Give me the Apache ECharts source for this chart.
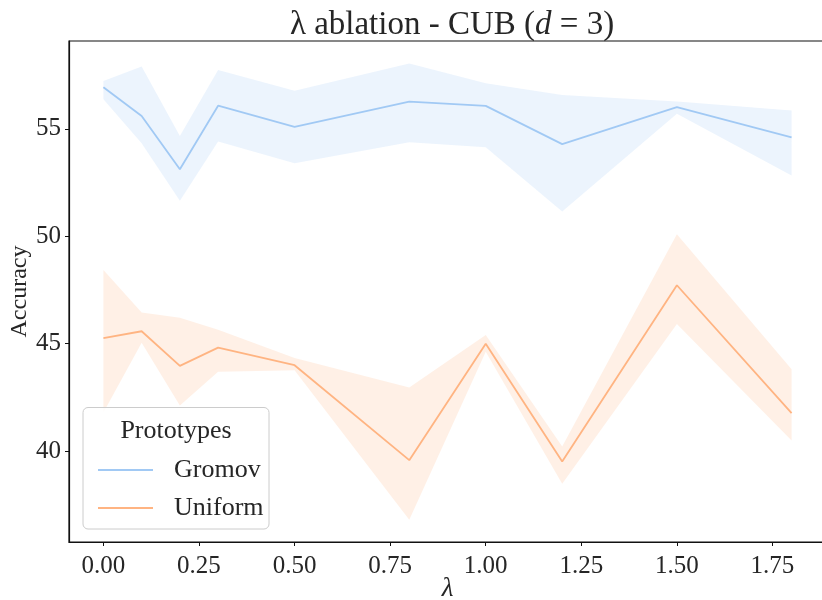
<!DOCTYPE html>
<html>
<head>
<meta charset="utf-8">
<script src="https://cdn.jsdelivr.net/npm/echarts@6/dist/echarts.min.js"></script>
<style>html,body{margin:0;padding:0;background:#fff}#c{width:822px;height:600px}</style>
</head>
<body>
<div id="c"></div>
<script>
const lambdas = [0, 0.1, 0.2, 0.3, 0.5, 0.8, 1.0, 1.2, 1.5, 1.8];
const gromovMean  = [56.94, 55.60, 53.12, 56.08, 55.09, 56.27, 56.07, 54.29, 56.01, 54.60];
const gromovUpper = [57.23, 57.90, 54.67, 57.74, 56.77, 58.04, 57.12, 56.58, 56.27, 55.85];
const gromovLower = [56.38, 54.33, 51.65, 54.41, 53.40, 54.38, 54.15, 51.15, 55.70, 52.83];
const uniformMean  = [45.26, 45.58, 43.97, 44.82, 44.00, 39.58, 45.00, 39.52, 47.72, 41.77];
const uniformUpper = [48.43, 46.45, 46.21, 45.65, 44.33, 42.96, 45.41, 40.21, 50.09, 43.81];
const uniformLower = [41.80, 45.05, 42.12, 43.70, 43.77, 36.80, 44.63, 38.48, 45.92, 40.49];
const xTicks = [0, 0.25, 0.5, 0.75, 1.0, 1.25, 1.5, 1.75];
const yTicks = [40, 45, 50, 55];

const FONT = '"Liberation Serif", "DejaVu Serif", serif';
const TXT = '#262626';
const BLUE = '#a1c9f4';
const ORANGE = '#ffb482';

const pts = (ys) => lambdas.map((x, i) => [x, ys[i]]);

function band(name, lo, hi, color) {
  return {
    name: name, type: 'custom', silent: true, z: 1,
    data: lambdas.map((x, i) => [x, lo[i], hi[i]]),
    encode: { x: 0, y: [1, 2] },
    renderItem: function (params, api) {
      if (params.dataIndexInside !== 0) return null;
      const n = params.dataInsideLength;
      const upper = [], lower = [];
      for (let k = 0; k < n; k++) {
        const x = api.value(0, k);
        lower.push(api.coord([x, api.value(1, k)]));
        upper.push(api.coord([x, api.value(2, k)]));
      }
      const poly = lower.concat(upper.reverse());
      return { type: 'polygon', shape: { points: poly },
        style: { fill: color, opacity: 0.2 } };
    }
  };
}

const chart = echarts.init(document.getElementById('c'), null, { renderer: 'canvas' });
chart.setOption({
  animation: false,
  backgroundColor: '#fff',
  title: {
    text: '{n|λ ablation - CUB (}{i|d}{n| = 3)}',
    left: 447, top: 4, textAlign: 'center',
    textStyle: { fontWeight: 'normal', rich: {
      n: { fontFamily: FONT, fontSize: 33, color: TXT, fontWeight: 'normal' },
      i: { fontFamily: FONT, fontSize: 33, fontStyle: 'italic', color: TXT, fontWeight: 'normal' }
    } }
  },
  grid: { left: 69, top: 41, width: 757, height: 501, show: true, borderColor: '#111', borderWidth: 1.2,
    containLabel: false, outerBoundsMode: 'none' },
  xAxis: {
    type: 'value', min: -0.09, max: 1.89,
    name: 'λ', nameLocation: 'middle', nameGap: 33, nameMoveOverlap: false,
    nameTextStyle: { fontFamily: FONT, fontSize: 27, fontStyle: 'italic', color: TXT },
    axisLine: { show: true, onZero: false, lineStyle: { color: '#111', width: 1.2 } },
    axisTick: { show: true, length: 4, customValues: xTicks, lineStyle: { color: '#111' } },
    axisLabel: { customValues: xTicks, margin: 12, fontFamily: FONT, fontSize: 25, color: TXT,
      formatter: v => v.toFixed(2) },
    splitLine: { show: false }
  },
  yAxis: {
    type: 'value', min: 35.77, max: 59.09,
    name: 'Accuracy', nameLocation: 'middle', nameGap: 37, nameRotate: 90, nameMoveOverlap: false,
    nameTextStyle: { fontFamily: FONT, fontSize: 24, color: TXT },
    axisLine: { show: true, onZero: false, lineStyle: { color: '#111', width: 1.2 } },
    axisTick: { show: true, length: 4, customValues: yTicks, lineStyle: { color: '#111' } },
    axisLabel: { customValues: yTicks, margin: 8, fontFamily: FONT, fontSize: 25, color: TXT },
    splitLine: { show: false }
  },
  legend: {
    data: [{ name: 'Gromov', icon: 'rect' }, { name: 'Uniform', icon: 'rect' }],
    orient: 'vertical', left: 93, top: 450,
    itemWidth: 55, itemHeight: 2, itemGap: 8,
    textStyle: { fontFamily: FONT, fontSize: 26, color: TXT, lineHeight: 30, padding: [0, 0, 0, 16] },
    selectedMode: false
  },
  graphic: [
    { type: 'rect', z: 3, shape: { x: 83, y: 407.5, width: 186, height: 121.5, r: 5 },
      style: { fill: 'rgba(255,255,255,0.8)', stroke: '#cccccc', lineWidth: 1 } },
    { type: 'text', z: 5, x: 176, y: 431, style: { text: 'Prototypes', fontFamily: FONT, fontSize: 26,
      fill: TXT, align: 'center', verticalAlign: 'middle' } }
  ],
  series: [
    band('g', gromovLower, gromovUpper, BLUE),
    band('u', uniformLower, uniformUpper, ORANGE),
    { name: 'Gromov', type: 'line', data: pts(gromovMean), symbol: 'none',
      lineStyle: { color: BLUE, width: 1.8 }, itemStyle: { color: BLUE }, z: 2 },
    { name: 'Uniform', type: 'line', data: pts(uniformMean), symbol: 'none',
      lineStyle: { color: ORANGE, width: 1.8 }, itemStyle: { color: ORANGE }, z: 2 }
  ]
});
</script>
</body>
</html>
